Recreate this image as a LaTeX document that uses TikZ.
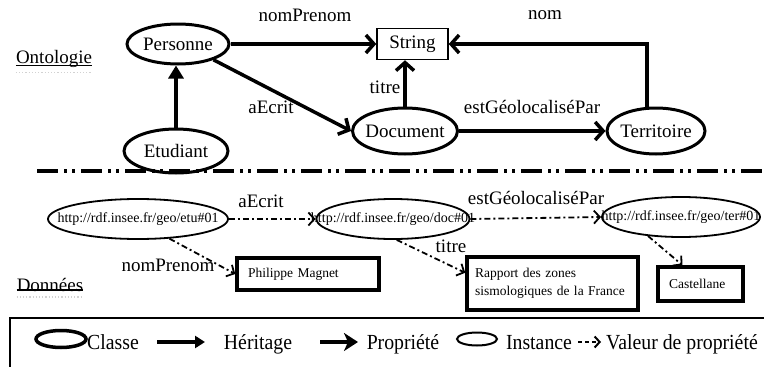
\documentclass[tikz,border=0pt]{standalone}
\usepackage{fontspec}
\setmainfont{Liberation Serif}
\newfontfamily\legfont[FakeStretch=0.92]{Liberation Serif}
\usetikzlibrary{shapes.geometric,arrows.meta}
\newcommand{\zw}[1]{\makebox[0pt]{#1}}
\begin{document}
\begin{tikzpicture}[x=1pt,y=-1pt,
  big/.style={font=\fontsize{19}{22}\selectfont},
  small/.style={font=\fontsize{14}{18}\selectfont},
  boxt/.style={font=\fontsize{13.5}{18}\selectfont},
  leg/.style={font=\legfont\fontsize{21.5}{24}\selectfont},
  cls/.style={ellipse,draw,line width=3pt,inner sep=0pt,big},
  inst/.style={ellipse,draw,line width=1.8pt,inner sep=0pt,small},
  lit/.style={draw,line width=3.5pt,inner ysep=0pt,align=left,boxt},
  prop/.style={line width=3.5pt,-{Straight Barb[length=8pt,width=18pt]}},
  inh/.style={line width=4.5pt,-{Triangle[length=13pt,width=15pt]}},
  val/.style={line width=1.8pt,dash pattern=on 6pt off 3pt on 2pt off 3pt,-{Straight Barb[length=6pt,width=13pt]}},
  lbl/.style={inner sep=0pt,big},
  legt/.style={inner sep=0pt,leg,anchor=base}]
\useasboundingbox (0,0) rectangle (764,367);

% ---------- Ontologie ----------
\node[lbl] (onto) at (54,59) {Ontologie};
\draw[line width=1.3pt] (onto.south west) ++(0,-2) coordinate (o1) -- (o1 -| onto.south east);
\draw[gray!35,line width=1.2pt,dotted] ([yshift=-5pt]onto.south west) -- ([yshift=-5pt]onto.south east);

\node[cls,minimum width=102,minimum height=40] (pers) at (178,44) {\zw{Personne}};
\node[cls,minimum width=104,minimum height=44] (etud) at (176,151) {\zw{Etudiant}};
\node[draw,line width=1.5pt,minimum width=71,minimum height=31,inner sep=0pt,big] (str) at (412.5,44) {String};
\node[cls,minimum width=105,minimum height=46] (doc) at (405,131) {\zw{Document}};
\node[cls,minimum width=98,minimum height=46] (ter) at (656,131) {\zw{Territoire}};

\draw[inh] (etud.north) -- (etud.north |- pers.south);
\draw[prop] (pers.east) -- (str.west);
\draw[prop] (pers.-24) -- (doc.west);
\draw[prop] (doc.north) -- (doc.north |- str.south);
\draw[prop] (doc.east) -- (ter.west);
\draw[prop] ([xshift=-9pt]ter.north) |- (str.east);

\node[lbl] (lnp) at (305,15) {nomPrenom};
\node[lbl] (lnom) at (545,15) {nom};
\node[lbl] (ltit) at (385,87) {titre};
\node[lbl] (lae) at (271,107) {aEcrit};
\node[lbl] (lgeo) at (532,107) {estGéolocaliséPar};

% ---------- separator ----------
\coordinate (s1) at (37,171);
\coordinate (s2) at (764,171);
\draw[line width=4pt,dash pattern=on 21pt off 6pt on 3pt off 5pt on 3pt off 6pt] (s1) -- (s2);

% ---------- Donnees ----------
\node[lbl] (don) at (50,285) {Données};
\draw[line width=1.3pt] (don.south west) ++(0,-2) coordinate (d1) -- (d1 -| don.south east);
\draw[gray!35,line width=1.2pt,dotted] ([yshift=-5pt]don.south west) -- ([yshift=-5pt]don.south east);

\node[inst,minimum width=180,minimum height=40] (ietu) at (138,219) {\zw{http://rdf.insee.fr/geo/etu\#01}};
\node[inst,minimum width=153,minimum height=40] (idoc) at (393,219) {\zw{http://rdf.insee.fr/geo/doc\#01}};
\node[inst,minimum width=158,minimum height=40] (iter) at (681,217) {\zw{http://rdf.insee.fr/geo/ter\#01}};

\node[lit,minimum height=32,inner xsep=11pt,text width=120pt] (phil) at (308,274) {Philippe Magnet};
\node[lit,minimum height=53,inner xsep=8pt,text width=155pt] (rap) at (552.5,283.5) {Rapport des zones\\sismologiques de la France};
\node[lit,minimum height=34,inner xsep=11pt,text width=63pt] (cas) at (700.5,284) {Castellane};

\draw[val] (ietu.east) -- (idoc.west);
\draw[val] (idoc.east) -- (iter.west);
\draw[val] (ietu.-32) -- (phil.west);
\draw[val] (idoc.-80) -- (rap.173);
\draw[val] (iter.-150) -- ([xshift=-18pt]cas.north);

\node[lbl] (dae) at (261,201) {aEcrit};
\node[lbl] (dgeo) at (536,198) {estGéolocaliséPar};
\node[lbl] (dtit) at (451,246) {titre};
\node[lbl] (dnp) at (168,265) {nomPrenom};

% ---------- legend ----------
\coordinate (f1) at (10,367);
\coordinate (f2) at (10,318);
\coordinate (f3) at (764,318);
\draw[line width=2pt] (f1) -- (f2) -- (f3);

\node[ellipse,draw,line width=3.5pt,minimum width=50,minimum height=17,inner sep=0pt] (lc) at (61,339) {};
\node[legt] (tc) at (113,349) {Classe};
\coordinate (h1) at (157,342);
\coordinate (h2) at (205,342);
\draw[line width=3.5pt,-{Triangle[length=10pt,width=12pt]}] (h1) -- (h2);
\node[legt] (th) at (258,349) {Héritage};
\coordinate (p1) at (320,342);
\coordinate (p2) at (358,342);
\draw[line width=4pt,-{Stealth[length=14pt,width=18pt,inset=4pt]}] (p1) -- (p2);
\node[legt] (tp) at (403,349) {Propriété};
\node[ellipse,draw,line width=2pt,minimum width=40,minimum height=13,inner sep=0pt] (li) at (477,339) {};
\node[legt] (ti) at (539,349) {Instance};
\coordinate (v1) at (578,342);
\coordinate (v2) at (601,342);
\draw[line width=2pt,dash pattern=on 4pt off 3pt,-{Straight Barb[length=5pt,width=11pt]}] (v1) -- (v2);
\node[legt] (tv) at (682,349) {Valeur de propriété};
\end{tikzpicture}
\end{document}
